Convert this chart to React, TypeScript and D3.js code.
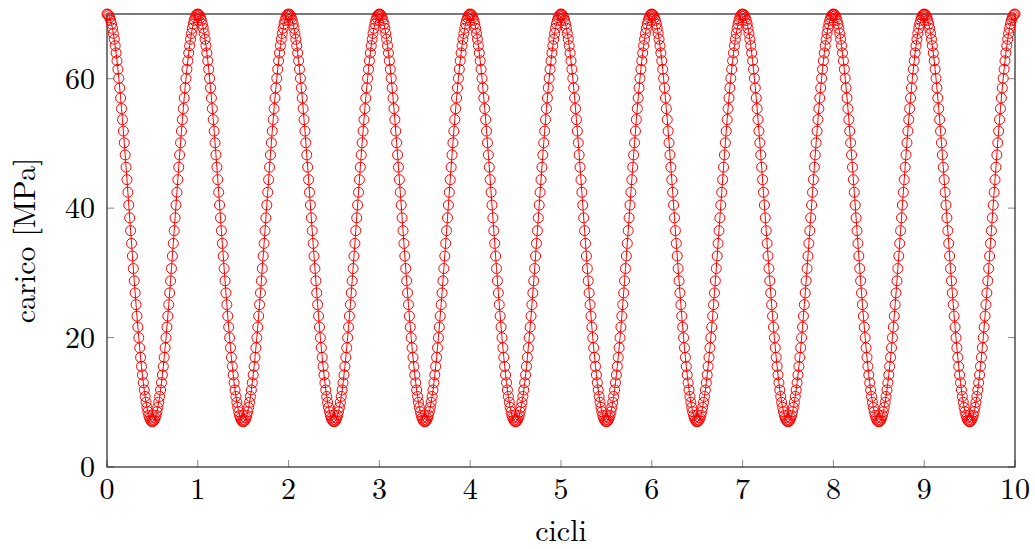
import React from "react";
import * as d3 from "d3";

// One load cycle (cicli 0 -> 1, step 0.01): max 70 MPa, min 7 MPa
const cycleLoad: number[] = [
  70.0, 69.94, 69.75, 69.44, 69.01, 68.46, 67.79, 67.0, 66.1, 65.1,
  63.98, 62.77, 61.46, 60.06, 58.58, 57.02, 55.38, 53.68, 51.91, 50.1,
  48.23, 46.33, 44.4, 42.45, 40.48, 38.5, 36.52, 34.55, 32.6, 30.67,
  28.77, 26.9, 25.09, 23.32, 21.62, 19.98, 18.42, 16.94, 15.54, 14.23,
  13.02, 11.9, 10.9, 10.0, 9.21, 8.54, 7.99, 7.56, 7.25, 7.06,
  7.0, 7.06, 7.25, 7.56, 7.99, 8.54, 9.21, 10.0, 10.9, 11.9,
  13.02, 14.23, 15.54, 16.94, 18.42, 19.98, 21.62, 23.32, 25.09, 26.9,
  28.77, 30.67, 32.6, 34.55, 36.52, 38.5, 40.48, 42.45, 44.4, 46.33,
  48.23, 50.1, 51.91, 53.68, 55.38, 57.02, 58.58, 60.06, 61.46, 62.77,
  63.98, 65.1, 66.1, 67.0, 67.79, 68.46, 69.01, 69.44, 69.75, 69.94,
  70.0,
];
const cycleCount = 10;
const cycleStep = 0.01;
const xTicks = [0, 1, 2, 3, 4, 5, 6, 7, 8, 9, 10];
const yTicks = [0, 20, 40, 60];
const xLabel = "cicli";
const yLabel = "carico [MPa]";

// every cycle in the picture is the same, so the one-cycle readings repeat
const points: [number, number][] = [];
for (let c = 0; c < cycleCount; c++) {
  cycleLoad.forEach((v, i) => {
    if (c > 0 && i === 0) return;
    points.push([c + i * cycleStep, v]);
  });
}

const W = 1035;
const H = 549;
const L = 107;
const R = 1015;
const T = 14;
const B = 467;
const FONT = "'Latin Modern Roman', 'CMU Serif', 'Liberation Serif', serif";

export default function App() {
  const x = d3.scaleLinear().domain([0, 10]).range([L, R]);
  const y = d3.scaleLinear().domain([0, 70]).range([B, T]);
  const line = d3
    .line<[number, number]>()
    .x((d) => x(d[0]))
    .y((d) => y(d[1]));
  const tickLen = 7;
  return (
    <svg
      width={W}
      height={H}
      style={{ position: "absolute", left: 0, top: 0, background: "#fff" }}
      fontFamily={FONT}
    >
      {/* ticks */}
      {xTicks.map((t) => (
        <g key={"xt" + t} stroke="#888" strokeWidth={1}>
          <line x1={x(t)} x2={x(t)} y1={B} y2={B - tickLen} />
          <line x1={x(t)} x2={x(t)} y1={T} y2={T + tickLen} />
        </g>
      ))}
      {yTicks.map((t) => (
        <g key={"yt" + t} stroke="#888" strokeWidth={1}>
          <line x1={L} x2={L + tickLen} y1={y(t)} y2={y(t)} />
          <line x1={R} x2={R - tickLen} y1={y(t)} y2={y(t)} />
        </g>
      ))}
      {/* frame */}
      <rect
        x={L}
        y={T}
        width={R - L}
        height={B - T}
        fill="none"
        stroke="#222"
        strokeWidth={1.2}
      />
      {/* series */}
      <path d={line(points) || ""} fill="none" stroke="#ff0000" strokeWidth={1} />
      {points.map((p, i) => (
        <circle
          key={i}
          cx={x(p[0])}
          cy={y(p[1])}
          r={5}
          fill="none"
          stroke="#ff0000"
          strokeWidth={1}
        />
      ))}
      {/* tick labels */}
      {xTicks.map((t) => (
        <text
          key={"xl" + t}
          x={x(t)}
          y={B + 32}
          textAnchor="middle"
          fontSize={30}
          fill="#000"
        >
          {t}
        </text>
      ))}
      {yTicks.map((t) => (
        <text
          key={"yl" + t}
          x={L - 12}
          y={y(t) + 10}
          textAnchor="end"
          fontSize={30}
          fill="#000"
        >
          {t}
        </text>
      ))}
      <text x={(L + R) / 2} y={541} textAnchor="middle" fontSize={30} fill="#000">
        {xLabel}
      </text>
      <text
        transform={`translate(35, ${(T + B) / 2}) rotate(-90)`}
        textAnchor="middle"
        fontSize={30}
        fill="#000"
      >
        {yLabel}
      </text>
    </svg>
  );
}
